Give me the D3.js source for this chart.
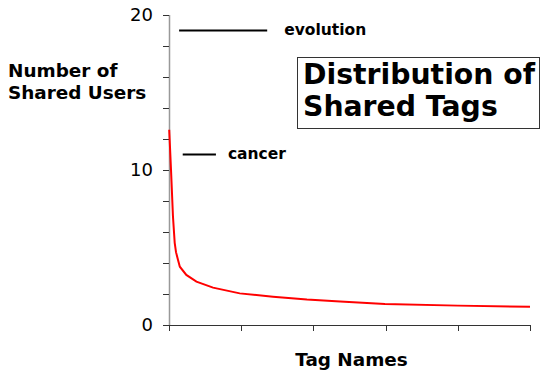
<!DOCTYPE html>
<html>
<head>
<meta charset="utf-8">
<script src="https://cdn.jsdelivr.net/npm/d3@7"></script>
<style>
  body { margin: 0; background: #fff; }
  text { font-family: "DejaVu Sans", Verdana, sans-serif; }
</style>
</head>
<body>
<div id="chart"></div>
<script>
// tag rank (x) and number of shared users (y)
const tagRank = [0.3, 2.8, 5.5, 7.9, 9.7, 12.5, 15, 24, 38, 61, 98, 144, 191, 237, 299, 400, 500];
const sharedUsers = [12.6, 10, 7, 5.3, 4.7, 4.2, 3.76, 3.23, 2.8, 2.41, 2.04, 1.83, 1.64, 1.51, 1.35, 1.25, 1.18];
const yTicks = [0, 10, 20];
const yMinorTicks = [0, 2, 4, 6, 8, 10, 12, 14, 16, 18, 20];
const xTicks = [0, 100, 200, 300, 400, 500];
const annotations = [
  { name: "evolution", value: 19, x0: 14, x1: 136, gap: 17 },
  { name: "cancer", value: 11, x0: 19, x1: 65, gap: 12 }
];

const width = 549, height = 377;
const svg = d3.select("#chart").append("svg")
  .attr("width", width)
  .attr("height", height);

const x = d3.scaleLinear().domain([0, 500]).range([169, 530]);
const y = d3.scaleLinear().domain([0, 20]).range([325, 15]);

// y axis
svg.append("line")
  .attr("x1", 169.5).attr("x2", 169.5)
  .attr("y1", y(20)).attr("y2", y(0))
  .attr("stroke", "#999").attr("stroke-width", 1.5);

svg.append("g").selectAll("line")
  .data(yMinorTicks)
  .join("line")
  .attr("x1", 163).attr("x2", 169)
  .attr("y1", d => Math.round(y(d)) + 0.5).attr("y2", d => Math.round(y(d)) + 0.5)
  .attr("stroke", "#333");

svg.append("g").selectAll("text")
  .data(yTicks)
  .join("text")
  .attr("x", 153)
  .attr("y", d => y(d))
  .attr("dy", "0.36em")
  .attr("text-anchor", "end")
  .attr("font-family", "Liberation Sans, Arial, sans-serif")
  .attr("font-size", 18)
  .text(d => d);

// x axis
svg.append("line")
  .attr("x1", x(0)).attr("x2", x(500))
  .attr("y1", 325.5).attr("y2", 325.5)
  .attr("stroke", "#333");

svg.append("g").selectAll("line")
  .data(xTicks)
  .join("line")
  .attr("x1", d => Math.round(x(d)) + 0.5).attr("x2", d => Math.round(x(d)) + 0.5)
  .attr("y1", 325).attr("y2", 331)
  .attr("stroke", "#333");

// the distribution curve
const line = d3.line()
  .x((d, i) => x(tagRank[i]))
  .y(d => y(d));

svg.append("path")
  .datum(sharedUsers)
  .attr("d", line)
  .attr("fill", "none")
  .attr("stroke", "#ff0000")
  .attr("stroke-width", 2);

// annotations
const ann = svg.append("g").selectAll("g")
  .data(annotations)
  .join("g");

ann.append("line")
  .attr("x1", d => x(d.x0)).attr("x2", d => x(d.x1))
  .attr("y1", d => y(d.value)).attr("y2", d => y(d.value))
  .attr("stroke", "#000").attr("stroke-width", 2);

ann.append("text")
  .attr("x", d => x(d.x1) + d.gap)
  .attr("y", d => y(d.value))
  .attr("dy", "0.3em")
  .attr("font-size", 15.5)
  .attr("font-weight", "bold")
  .text(d => d.name);

// axis titles
svg.append("text")
  .attr("x", 8).attr("y", 77)
  .attr("font-size", 18.4).attr("font-weight", "bold")
  .text("Number of");
svg.append("text")
  .attr("x", 8).attr("y", 99)
  .attr("font-size", 18.4).attr("font-weight", "bold")
  .text("Shared Users");

svg.append("text")
  .attr("x", 351.5).attr("y", 366)
  .attr("text-anchor", "middle")
  .attr("font-size", 18.4).attr("font-weight", "bold")
  .text("Tag Names");

// title box
svg.append("rect")
  .attr("x", 297.5).attr("y", 57.5)
  .attr("width", 242).attr("height", 71)
  .attr("fill", "#fff").attr("stroke", "#333");

svg.append("text")
  .attr("x", 303).attr("y", 84)
  .attr("font-size", 28.3).attr("font-weight", "bold")
  .text("Distribution of");
svg.append("text")
  .attr("x", 303).attr("y", 116)
  .attr("font-size", 28.3).attr("font-weight", "bold")
  .text("Shared Tags");
</script>
</body>
</html>
